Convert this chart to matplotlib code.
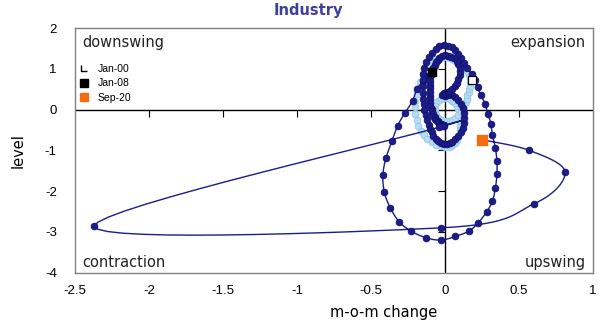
import numpy as np
import matplotlib
matplotlib.use("Agg")
import matplotlib.pyplot as plt
from matplotlib.lines import Line2D
from matplotlib.path import Path

# Industry cycle: x = month-on-month change, y = level
# 2000-2007 (monthly)
early_change = [
    0.18, 0.16, 0.14, 0.12, 0.09, 0.06, 0.03, 0.00, -0.03, -0.06, -0.09, -0.11,
    -0.13, -0.15, -0.17, -0.18, -0.19, -0.20, -0.20, -0.20, -0.19, -0.18, -0.16, -0.14,
    -0.12, -0.09, -0.06, -0.03, 0.00, 0.03, 0.05, 0.07, 0.08, 0.09, 0.10, 0.10,
    0.10, 0.10, 0.10, 0.10, 0.09, 0.08, 0.07, 0.05, 0.03, 0.01, -0.01, -0.03,
    -0.05, -0.06, -0.07, -0.07, -0.07, -0.06, -0.05, -0.03, -0.01, 0.01, 0.03, 0.05,
    0.07, 0.09, 0.11, 0.12, 0.13, 0.14, 0.15, 0.15, 0.16, 0.16, 0.17, 0.17,
    0.17, 0.16, 0.15, 0.13, 0.11, 0.09, 0.07, 0.05, 0.03, 0.01, -0.01, -0.03,
    -0.04, -0.05, -0.06, -0.06, -0.07, -0.07, -0.07, -0.08, -0.08, -0.08, -0.08, -0.09,
]
early_level = [
    0.73, 0.88, 1.01, 1.12, 1.21, 1.27, 1.31, 1.32, 1.30, 1.25, 1.17, 1.07,
    0.95, 0.82, 0.68, 0.53, 0.38, 0.22, 0.06, -0.10, -0.25, -0.39, -0.52, -0.63,
    -0.72, -0.80, -0.86, -0.90, -0.92, -0.91, -0.87, -0.81, -0.74, -0.66, -0.57, -0.47,
    -0.37, -0.27, -0.17, -0.07, 0.02, 0.10, 0.17, 0.22, 0.26, 0.28, 0.28, 0.26,
    0.22, 0.16, 0.09, 0.01, -0.07, -0.14, -0.20, -0.25, -0.28, -0.29, -0.28, -0.25,
    -0.20, -0.13, -0.05, 0.03, 0.11, 0.19, 0.27, 0.35, 0.43, 0.51, 0.59, 0.67,
    0.76, 0.85, 0.94, 1.02, 1.09, 1.15, 1.20, 1.24, 1.27, 1.28, 1.28, 1.27,
    1.25, 1.22, 1.19, 1.16, 1.13, 1.10, 1.07, 1.05, 1.02, 1.00, 0.98, 0.96,
]

# Jan 2008 - Sep 2020 (monthly)
late_change = [
    -0.09, -0.12, -0.15, -0.19,
    -0.22, -0.27, -0.32, -0.36, -0.40, -0.42, -0.41, -0.37,
    -0.31, -0.23, -0.13, -0.03, 0.07, 0.16, 0.22, 0.28, 0.32, 0.34, 0.35, 0.35,
    0.34, 0.32, 0.31, 0.29, 0.27, 0.24, 0.22, 0.20,
    0.18, 0.15, 0.13, 0.11, 0.09, 0.07, 0.05, 0.02, -0.01, -0.04,
    -0.06, -0.09, -0.11, -0.13, -0.14, -0.15, -0.15, -0.15, -0.15, -0.15,
    -0.14, -0.14, -0.13, -0.12, -0.11, -0.10, -0.09, -0.08, -0.06, -0.05,
    -0.03, -0.01, 0.01, 0.03, 0.05, 0.07, 0.09, 0.11, 0.12, 0.13, 0.13,
    0.13, 0.12, 0.11, 0.09, 0.07, 0.05, 0.03, 0.01, 0.00, -0.01, 0.00,
    0.01, 0.00, -0.01, -0.02, -0.01, 0.00, 0.01, 0.02, 0.01, 0.00, -0.01, 0.00, 0.01, 0.02,
    0.03, 0.05, 0.07, 0.08, 0.09, 0.10, 0.10, 0.10, 0.09, 0.08, 0.06, 0.04, 0.02, 0.00,
    -0.02, -0.04, -0.05, -0.06, -0.07, -0.08, -0.09, -0.09, -0.10, -0.10, -0.10, -0.10,
    -0.10, -0.10, -0.10, -0.10, -0.10, -0.09, -0.09, -0.08, -0.08, -0.07, -0.07, -0.06,
    -0.05, -0.05, -0.04, -0.03, -0.03, -0.02, -0.02, -0.01, -0.01, -0.02,
    -0.04, -2.37, -0.03, 0.60, 0.81, 0.57, 0.25,
]
late_level = [
    0.93, 0.83, 0.70, 0.50,
    0.21, -0.07, -0.39, -0.78, -1.19, -1.61, -2.03, -2.41,
    -2.75, -2.98, -3.14, -3.20, -3.11, -2.98, -2.79, -2.51, -2.24, -1.91, -1.59, -1.27,
    -0.94, -0.63, -0.36, -0.10, 0.14, 0.36, 0.55, 0.72,
    0.87, 1.01, 1.14, 1.26, 1.37, 1.46, 1.53, 1.57, 1.58, 1.55,
    1.49, 1.40, 1.29, 1.16, 1.02, 0.87, 0.72, 0.57, 0.42, 0.27,
    0.13, -0.01, -0.14, -0.26, -0.37, -0.47, -0.56, -0.64, -0.71, -0.77,
    -0.81, -0.84, -0.85, -0.83, -0.79, -0.73, -0.65, -0.55, -0.44, -0.32, -0.20,
    -0.08, 0.04, 0.15, 0.24, 0.31, 0.36, 0.39, 0.40, 0.40, 0.39, 0.38,
    0.36, 0.34, 0.35, 0.37, 0.40, 0.42, 0.41, 0.39, 0.37, 0.36, 0.38, 0.40, 0.42, 0.43,
    0.46, 0.51, 0.58, 0.66, 0.75, 0.85, 0.95, 1.04, 1.13, 1.20, 1.26, 1.30, 1.32, 1.33,
    1.31, 1.27, 1.22, 1.16, 1.10, 1.03, 0.95, 0.87, 0.79, 0.70, 0.61, 0.52,
    0.43, 0.34, 0.25, 0.17, 0.09, 0.02, -0.04, -0.10, -0.15, -0.19, -0.23, -0.26,
    -0.29, -0.31, -0.33, -0.35, -0.36, -0.37, -0.38, -0.38, -0.39, -0.40,
    -0.43, -2.86, -2.90, -2.31, -1.53, -1.00, -0.74,
]

legend_labels = ["Jan-00", "Jan-08", "Sep-20"]
x_ticks = [-2.5, -2, -1.5, -1, -0.5, 0, 0.5, 1]
y_ticks = [-4, -3, -2, -1, 0, 1, 2]

DARK = "#1c1c8a"
DARK_EDGE = "#12126e"
LIGHT = "#b8dcf4"
LIGHT_EDGE = "#8fc6ec"
ORANGE = "#f76b0f"


def smooth_path(xs, ys, steps=16):
    """Cardinal (Catmull-Rom) Bezier smoothing through all points."""
    p = np.column_stack([xs, ys]).astype(float)
    n = len(p)
    out = [p[0]]
    t = np.linspace(0, 1, steps)[1:, None]
    for i in range(n - 1):
        p0 = p[i - 1] if i > 0 else p[i]
        p1, p2 = p[i], p[i + 1]
        p3 = p[i + 2] if i + 2 < n else p[i + 1]
        c1 = p1 + (p2 - p0) / 6.0
        c2 = p2 - (p3 - p1) / 6.0
        seg = ((1 - t) ** 3) * p1 + 3 * ((1 - t) ** 2) * t * c1 + 3 * (1 - t) * t ** 2 * c2 + t ** 3 * p2
        out.extend(seg)
    out = np.array(out)
    return out[:, 0], out[:, 1]


fig = plt.figure(figsize=(6.09, 3.27), dpi=100)
ax = fig.add_axes([0.123, 0.166, 0.851, 0.748])
ax.set_xlim(x_ticks[0], x_ticks[-1])
ax.set_ylim(y_ticks[0], y_ticks[-1])

# zero cross lines with their own tick marks
ax.axhline(0, color="black", lw=1.0, zorder=1)
ax.axvline(0, color="black", lw=1.0, zorder=1)
ax.plot(x_ticks[1:-1], [0] * len(x_ticks[1:-1]), ls="none", marker=3,
        ms=5, mew=0.8, color="black", zorder=1)
ax.plot([0] * len(y_ticks[1:-1]), y_ticks[1:-1], ls="none", marker=0,
        ms=5, mew=0.8, color="black", zorder=1)

# 2000-2007
ex, ey = smooth_path(early_change, early_level)
ax.plot(ex, ey, color=LIGHT, lw=1.0, zorder=2)
ax.plot(early_change, early_level, ls="none", marker="o", ms=4.8,
        mfc=LIGHT, mec=LIGHT_EDGE, mew=0.6, zorder=3)

# 2008-2020
lx, ly = smooth_path(late_change, late_level)
ax.plot(lx, ly, color=DARK, lw=1.0, zorder=4)
ax.plot(late_change, late_level, ls="none", marker="o", ms=4.8,
        mfc=DARK, mec=DARK_EDGE, mew=0.6, zorder=5)

# highlighted months
ax.plot(early_change[0], early_level[0], ls="none", marker="s", ms=6,
        mfc="white", mec="black", mew=0.9, zorder=6)
ax.plot(late_change[0], late_level[0], ls="none", marker="s", ms=6,
        mfc="black", mec="black", zorder=6)
ax.plot(late_change[-1], late_level[-1], ls="none", marker="s", ms=6.5,
        mfc=ORANGE, mec=ORANGE, zorder=6)

# frame and tick labels
for s in ax.spines.values():
    s.set_color("#808080")
    s.set_linewidth(1.0)
ax.set_xticks(x_ticks)
ax.set_yticks(y_ticks)
ax.set_xticklabels([f"{v:g}" for v in x_ticks], fontsize=9.5, family="Liberation Sans")
ax.set_yticklabels([f"{v:g}" for v in y_ticks], fontsize=9.5, family="Liberation Sans")
ax.tick_params(axis="x", length=0, pad=8.5)
ax.tick_params(axis="y", length=0, pad=13)

quad_kw = dict(fontsize=10.5, color="#222222", transform=ax.transAxes, family="DejaVu Sans")
ax.text(0.015, 0.97, "downswing", ha="left", va="top", **quad_kw)
ax.text(0.985, 0.97, "expansion", ha="right", va="top", **quad_kw)
ax.text(0.015, 0.012, "contraction", ha="left", va="bottom", **quad_kw)
ax.text(0.985, 0.012, "upswing", ha="right", va="bottom", **quad_kw)

ax.set_ylabel("level", fontsize=10.5, family="DejaVu Sans", labelpad=14)
fig.text(0.63, 0.02, "m-o-m change", ha="center", va="bottom", fontsize=10.5,
         family="DejaVu Sans")
fig.text(0.507, 0.99, "Industry", ha="center", va="top", fontsize=10.5,
         fontweight="bold", color="#3f3f9f", family="DejaVu Sans")

corner = Path([(-1, 1), (-1, -1), (1, -1)], [Path.MOVETO, Path.LINETO, Path.LINETO])
handles = [
    Line2D([], [], ls="none", marker=corner, ms=5, mfc="none", mec="black", mew=1.0),
    Line2D([], [], ls="none", marker="s", ms=5.5, mfc="black", mec="black"),
    Line2D([], [], ls="none", marker="s", ms=5.5, mfc=ORANGE, mec=ORANGE),
]
ax.legend(handles, legend_labels, loc="upper left", bbox_to_anchor=(-0.005, 0.885),
          frameon=False, prop={"family": "Liberation Sans", "size": 7.5},
          handlelength=0.8, handletextpad=0.9, labelspacing=0.45, borderaxespad=0.3)

fig.savefig("out.png", dpi=100)
